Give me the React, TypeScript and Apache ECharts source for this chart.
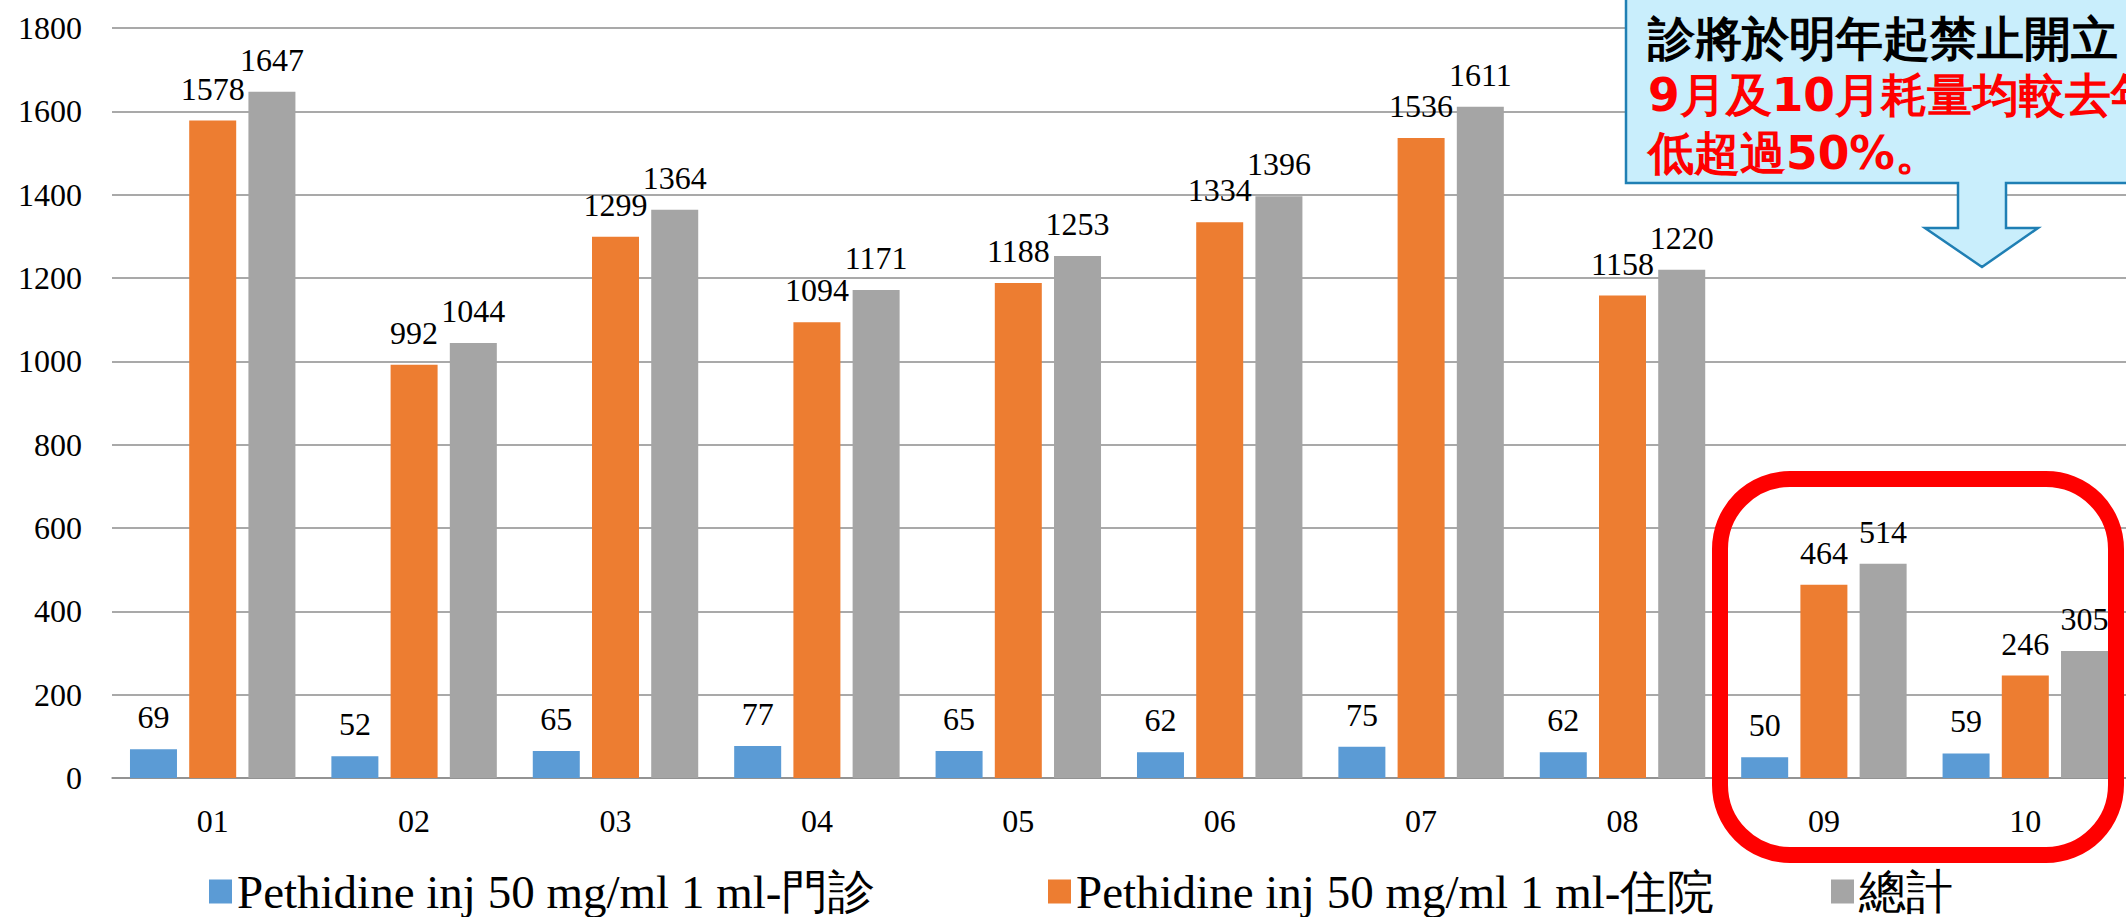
import React, { useEffect, useRef } from "react";
import * as echarts from "echarts";

const categories = ["01", "02", "03", "04", "05", "06", "07", "08", "09", "10"];
const outpatient = [69, 52, 65, 77, 65, 62, 75, 62, 50, 59];
const inpatient = [1578, 992, 1299, 1094, 1188, 1334, 1536, 1158, 464, 246];
const total = [1647, 1044, 1364, 1171, 1253, 1396, 1611, 1220, 514, 305];
const seriesNames = [
  "Pethidine inj 50 mg/ml 1 ml-門診",
  "Pethidine inj 50 mg/ml 1 ml-住院",
  "總計",
];
const seriesColors = ["#5B9BD5", "#ED7D31", "#A5A5A5"];
const yMin = 0;
const yMax = 1800;
const yInterval = 200;
const calloutLines = ["診將於明年起禁止開立", "9月及10月耗量均較去年", "低超過50%。"];
const calloutColors = ["#000000", "#FF0000", "#FF0000"];
const calloutSizes = [47, 45.5, 45.5];

const SERIF = "Times New Roman";
const CALLOUT_FONT = "DejaVu Sans";

export default function App() {
  const ref = useRef<HTMLDivElement>(null);

  useEffect(() => {
    if (!ref.current) return;
    const chart = echarts.init(ref.current, undefined, { renderer: "svg" });
    const values = [outpatient, inpatient, total];
    const legendLefts = [209, 1048, 1831];

    const option: any = {
      animation: false,
      backgroundColor: "#ffffff",
      textStyle: { fontFamily: SERIF },
      grid: { left: 112, right: 0, top: 28, bottom: 139, containLabel: false },
      legend: seriesNames.map((name, i) => ({
        data: [name],
        left: legendLefts[i],
        top: 868,
        padding: 0,
        icon: "rect",
        itemWidth: 23,
        itemHeight: 24,
        selectedMode: false,
        textStyle: { fontSize: 47, lineHeight: 47, fontFamily: SERIF, color: "#000" },
      })),
      xAxis: {
        type: "category",
        data: categories,
        axisLine: { show: true, lineStyle: { color: "#8c8c8c", width: 1.5 } },
        axisTick: { show: false },
        axisLabel: { fontSize: 32, fontFamily: SERIF, color: "#000", margin: 27 },
      },
      yAxis: {
        type: "value",
        min: yMin,
        max: yMax,
        interval: yInterval,
        axisLine: { show: false },
        axisTick: { show: false },
        splitLine: { show: true, lineStyle: { color: "#8c8c8c", width: 1.5 } },
        axisLabel: {
          fontSize: 32,
          fontFamily: SERIF,
          color: "#000",
          margin: 30,
          formatter: (v: number) => String(v),
        },
      },
      series: seriesNames.map((name, i) => ({
        name,
        type: "bar",
        data: values[i],
        barWidth: 47,
        barGap: "26%",
        itemStyle: { color: seriesColors[i] },
        label: {
          show: true,
          position: "top",
          distance: 16,
          fontSize: 32,
          fontFamily: SERIF,
          color: "#000",
        },
      })),
      graphic: [
        {
          type: "polygon",
          z: 100,
          shape: {
            points: [
              [1626, -60],
              [1626, 183],
              [1958, 183],
              [1958, 228],
              [1925, 228],
              [1982, 267],
              [2038, 228],
              [2006, 228],
              [2006, 183],
              [2150, 183],
              [2150, -60],
            ],
          },
          style: { fill: "#C9EEFC", stroke: "#1F7FB4", lineWidth: 2.5 },
        },
        ...calloutLines.map((t, i) => ({
          type: "text",
          z: 101,
          x: 1648,
          y: 38 + i * 57.5,
          style: {
            text: t,
            fill: calloutColors[i],
            fontSize: calloutSizes[i],
            lineHeight: 52,
            fontWeight: "bold",
            fontFamily: CALLOUT_FONT,
            verticalAlign: "middle",
            textVerticalAlign: "middle",
          },
        })),
        {
          type: "rect",
          z: 100,
          shape: { x: 1720, y: 479, width: 396, height: 376, r: 70 },
          style: { fill: "transparent", stroke: "#FF0000", lineWidth: 16 },
        },
      ],
    };

    chart.setOption(option);
    return () => chart.dispose();
  }, []);

  return (
    <div
      ref={ref}
      style={{ position: "fixed", left: 0, top: 0, width: 2126, height: 917, background: "#fff" }}
    />
  );
}
